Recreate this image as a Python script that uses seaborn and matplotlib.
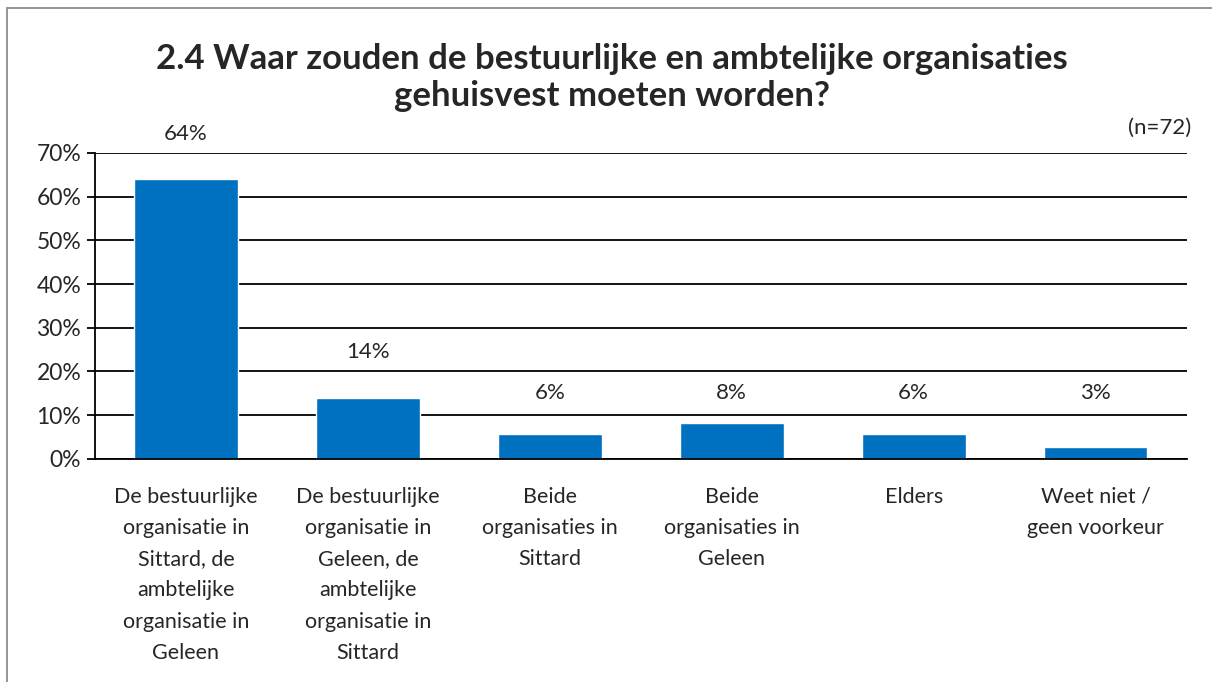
import numpy as np
import pandas as pd
import seaborn as sb
import matplotlib.pyplot as plt
from matplotlib.lines import Line2D

# data (n=72)
categories = [
    "De bestuurlijke\norganisatie in\nSittard, de\nambtelijke\norganisatie in\nGeleen",
    "De bestuurlijke\norganisatie in\nGeleen, de\nambtelijke\norganisatie in\nSittard",
    "Beide\norganisaties in\nSittard",
    "Beide\norganisaties in\nGeleen",
    "Elders",
    "Weet niet /\ngeen voorkeur",
]
values = [63.9, 13.9, 5.6, 8.3, 5.6, 2.8]
value_labels = ["64%", "14%", "6%", "8%", "6%", "3%"]
y_ticks = [0, 10, 20, 30, 40, 50, 60, 70]

title = "2.4 Waar zouden de bestuurlijke en ambtelijke organisaties\ngehuisvest moeten worden?"

sb.set_style("white")
plt.rcParams['font.family'] = ['Lato', 'DejaVu Sans']

df = pd.DataFrame({'cat': categories, 'val': values})

fig = plt.figure(figsize=(12.12, 6.82), dpi=100)
ax = fig.add_axes([0.0784, 0.327, 0.9006, 0.449])

sb.barplot(data=df, x='cat', y='val', color='#0070C0', width=0.57, saturation=1, ax=ax)

ax.set_ylim(0, 70)
ax.set_xlim(-0.5, len(categories) - 0.5)
ax.set_yticks(y_ticks)
ax.set_yticklabels([f"{t}%" for t in y_ticks], fontsize=16.5)
ax.yaxis.grid(True, color='black', linewidth=1.3)
ax.set_axisbelow(True)
ax.set_xlabel('')
ax.set_ylabel('')

# category ticks sit on the boundaries
ax.set_xticks(np.arange(len(categories)))
ax.set_xticklabels(categories, fontsize=15.5, linespacing=1.7, va='top')
ax.set_xticks(np.arange(len(categories) + 1) - 0.5, minor=True)
ax.tick_params(axis='x', which='major', length=0, pad=20)
ax.tick_params(axis='x', which='minor', length=6, width=1.3, color='black', direction='out')
ax.tick_params(axis='y', length=6, width=1.3, color='black', direction='out', left=True, pad=4)

for s in ['top', 'right']:
    ax.spines[s].set_visible(False)
for s in ['left', 'bottom']:
    ax.spines[s].set_color('black')
    ax.spines[s].set_linewidth(1.3)

# data labels: small bars share one label height
for i, (v, lab) in enumerate(zip(values, value_labels)):
    ly = v + 10.5 if v > 10 else 15
    ax.text(i, ly, lab, ha='center', va='center', fontsize=16)

fig.text(0.5046, 0.886, title, ha='center', va='center', fontsize=25,
         fontweight='bold', linespacing=1.2)
fig.text(0.983, 0.812, "(n=72)", ha='right', va='center', fontsize=16)

# chart-area border (only left and top edges visible)
fig.add_artist(Line2D([0.0058, 0.0058], [0, 0.988], transform=fig.transFigure, color='#8c8c8c', lw=1.3))
fig.add_artist(Line2D([0.0058, 1], [0.988, 0.988], transform=fig.transFigure, color='#8c8c8c', lw=1.3))

plt.savefig('out.png', dpi=100)
